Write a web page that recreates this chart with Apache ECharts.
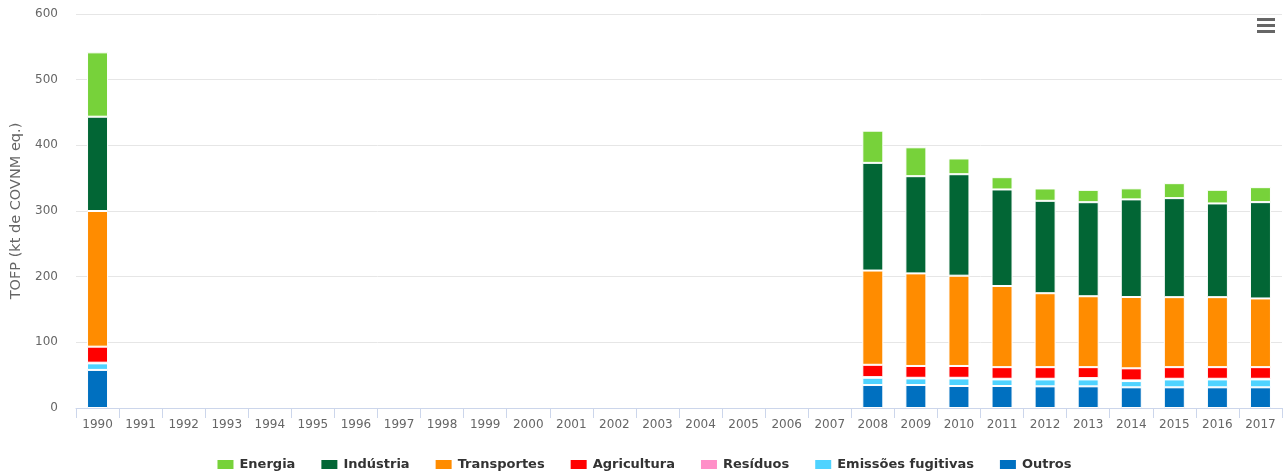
<!DOCTYPE html>
<html>
<head>
<meta charset="utf-8">
<script src="https://cdn.jsdelivr.net/npm/echarts@6/dist/echarts.min.js"></script>
<style>
html,body{margin:0;padding:0;background:#fff;}
#chart{width:1287px;height:475px;}
</style>
</head>
<body>
<div id="chart"></div>
<script>
const years = ['1990','1991','1992','1993','1994','1995','1996','1997','1998','1999','2000','2001','2002','2003','2004','2005','2006','2007','2008','2009','2010','2011','2012','2013','2014','2015','2016','2017'];
const yTicks = [0, 100, 200, 300, 400, 500, 600];
const N = null;
const energia      = [98,   N,N,N,N,N,N,N,N,N,N,N,N,N,N,N,N,N, 49,   44,   24,   18.7, 18.8, 18.8, 16.8, 22.8, 20.8, 22.8];
const industria    = [143.6,N,N,N,N,N,N,N,N,N,N,N,N,N,N,N,N,N, 164,  148,  154.5,147,  140.7,143.2,148.7,150.8,142.7,146.7];
const transportes  = [206.6,N,N,N,N,N,N,N,N,N,N,N,N,N,N,N,N,N, 143.5,141,  137.5,123.6,112.6,108,  108.6,106.6,106.6,104.6];
const agricultura  = [24.4, N,N,N,N,N,N,N,N,N,N,N,N,N,N,N,N,N, 18.8, 18,   18,   17.7, 17.7, 16.7, 18.4, 17.7, 17.7, 17.7];
const residuos     = [1,    N,N,N,N,N,N,N,N,N,N,N,N,N,N,N,N,N, 1,    1,    1,    1,    1,    2,    1,    1,    1,    1];
const fugitivas    = [10,   N,N,N,N,N,N,N,N,N,N,N,N,N,N,N,N,N, 11,   10,   11.5, 10,   10.5, 10.5, 9.5,  12,   12,   12];
const outros       = [58,   N,N,N,N,N,N,N,N,N,N,N,N,N,N,N,N,N, 35,   35,   33.5, 33.5, 33,   33,   31.5, 31.5, 31.5, 31.5];

const seriesDefs = [
  ['Outros', outros, '#0070c0'],
  ['Emissões fugitivas', fugitivas, '#4fd3ff'],
  ['Resíduos', residuos, '#ff8fc8'],
  ['Agricultura', agricultura, '#ff0000'],
  ['Transportes', transportes, '#ff8c00'],
  ['Indústria', industria, '#026635'],
  ['Energia', energia, '#77d23a']
];
const legendOrder = ['Energia','Indústria','Transportes','Agricultura','Resíduos','Emissões fugitivas','Outros'];

const chart = echarts.init(document.getElementById('chart'));
chart.setOption({
  animation: false,
  textStyle: {fontFamily: '"DejaVu Sans", sans-serif'},
  grid: {left: 76, right: 5, top: 14, bottom: 67, containLabel: false},
  legend: {
    data: legendOrder,
    bottom: -1,
    left: 'center',
    itemWidth: 18,
    itemHeight: 11,
    itemGap: 24,
    icon: 'rect',
    textStyle: {color: '#333', fontSize: 13, fontWeight: 'bold', fontFamily: '"DejaVu Sans", sans-serif'}
  },
  xAxis: {
    type: 'category',
    data: years,
    axisLine: {lineStyle: {color: '#ccd6eb'}},
    axisTick: {show: true, length: 10, lineStyle: {color: '#ccd6eb'}},
    axisLabel: {color: '#666', fontSize: 12, margin: 11, interval: 0}
  },
  yAxis: {
    type: 'value',
    min: yTicks[0],
    max: yTicks[yTicks.length - 1],
    interval: 100,
    name: 'TOFP (kt de COVNM eq.)',
    nameLocation: 'middle',
    nameGap: 49,
    nameRotate: 90,
    nameTextStyle: {color: '#666', fontSize: 14.5},
    axisLine: {show: false},
    axisTick: {show: false},
    axisLabel: {color: '#666', fontSize: 12, margin: 18},
    splitLine: {lineStyle: {color: '#e6e6e6'}}
  },
  graphic: [
    {type: 'rect', right: 12, top: 18, shape: {width: 18, height: 3}, style: {fill: '#666'}},
    {type: 'rect', right: 12, top: 24, shape: {width: 18, height: 3}, style: {fill: '#666'}},
    {type: 'rect', right: 12, top: 30, shape: {width: 18, height: 3}, style: {fill: '#666'}}
  ],
  series: seriesDefs.map(([name, data, color]) => ({
    name: name,
    type: 'bar',
    stack: 'total',
    data: data,
    barWidth: 21,
    itemStyle: {color: color, borderColor: '#fff', borderWidth: 1}
  }))
});
</script>
</body>
</html>
